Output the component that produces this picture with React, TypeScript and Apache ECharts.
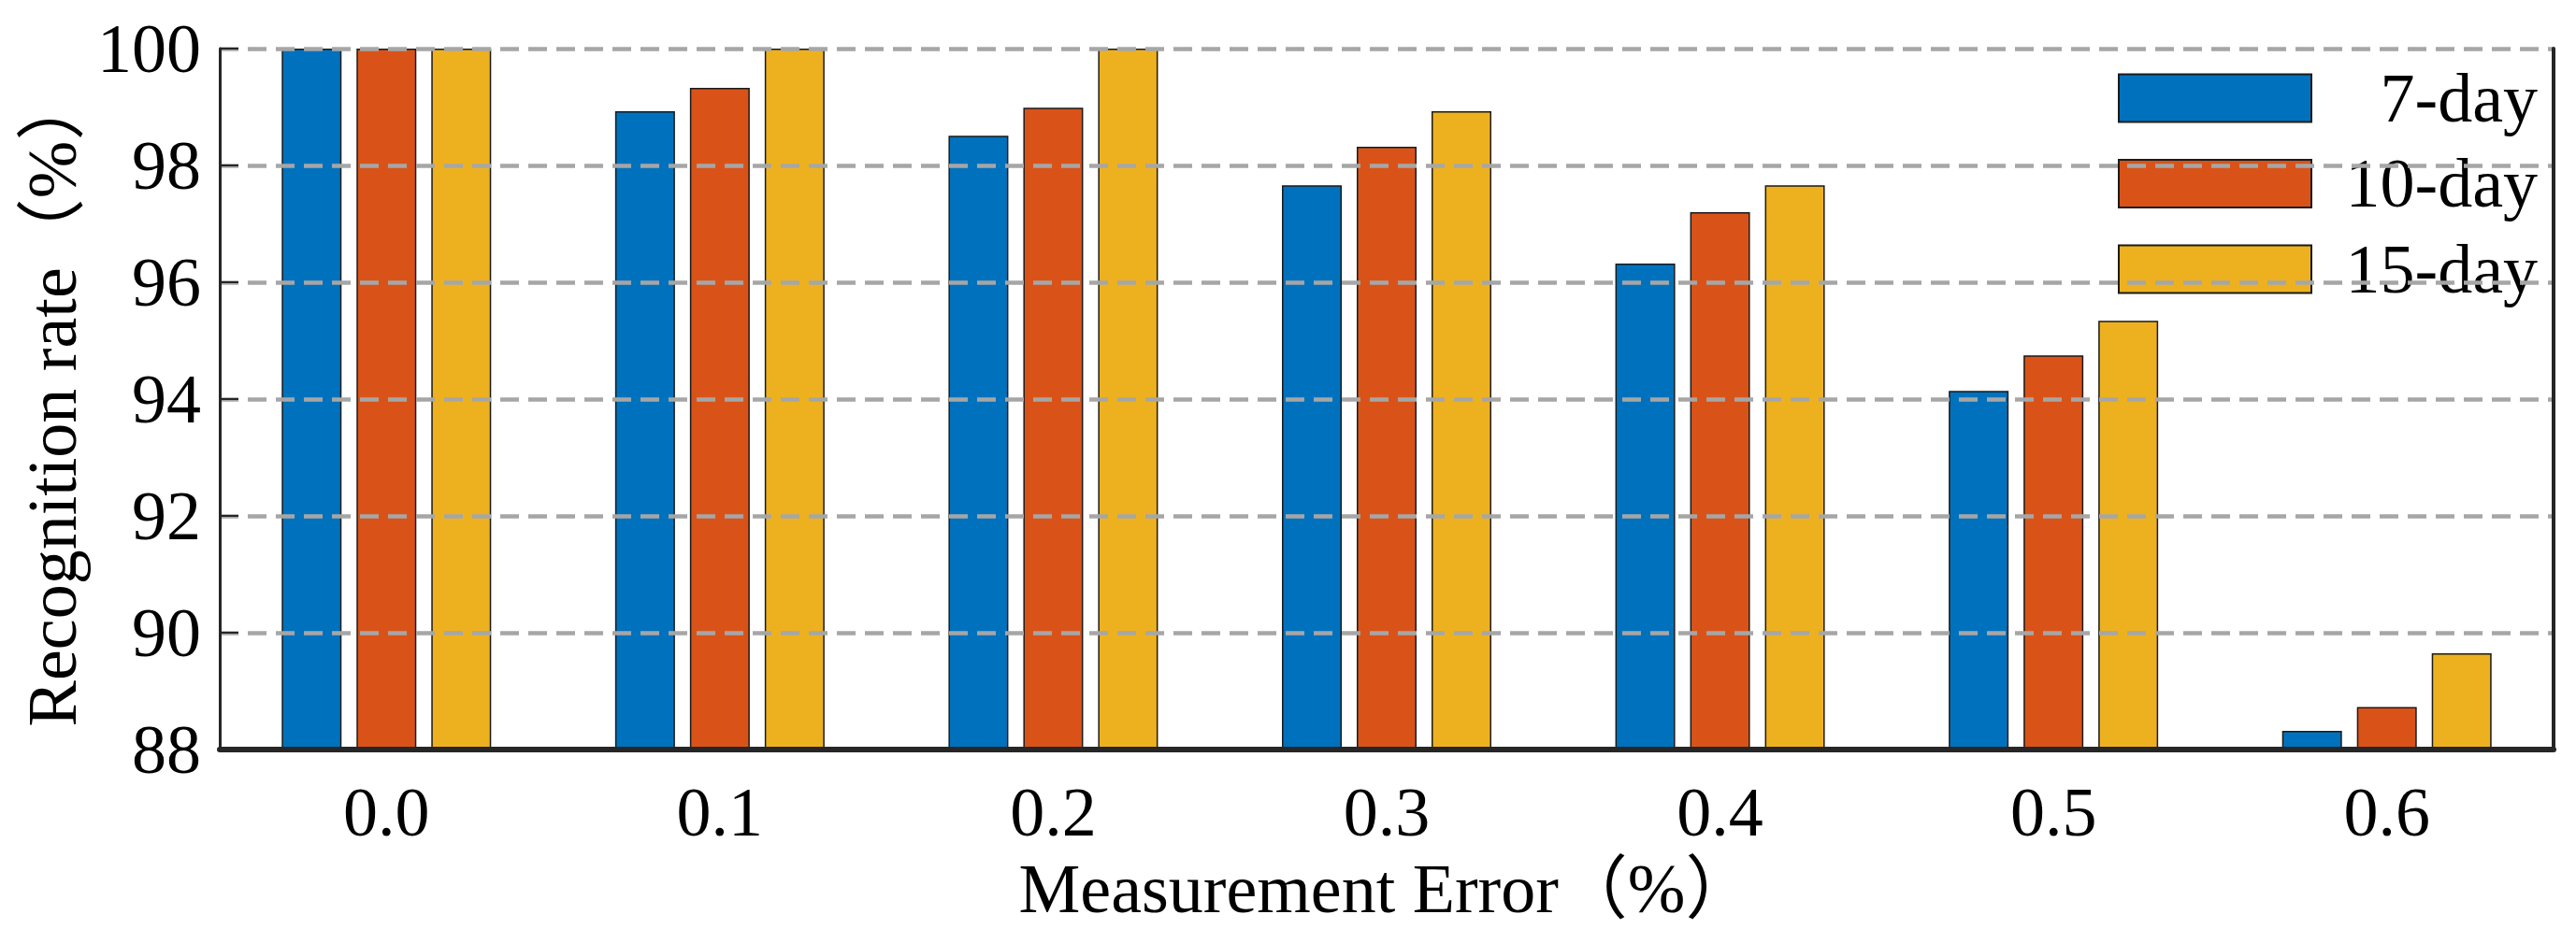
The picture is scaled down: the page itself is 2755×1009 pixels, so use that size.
import React, { useEffect, useRef } from "react";
import * as echarts from "echarts";

const categories = ["0.0", "0.1", "0.2", "0.3", "0.4", "0.5", "0.6"];
const seriesNames = ["7-day", "10-day", "15-day"];
const day7 = [100, 98.93, 98.51, 97.66, 96.32, 94.14, 88.32];
const day10 = [100, 99.33, 98.99, 98.32, 97.2, 94.75, 88.73];
const day15 = [100, 100, 100, 98.93, 97.66, 95.34, 89.65];
const colors = ["#0072BD", "#D95319", "#EDB120"];
const yMin = 88;
const yMax = 100;
const yInterval = 2;

const FONT = "'Liberation Serif', 'Times New Roman', 'Noto Sans CJK SC', serif";

export default function App() {
  const ref = useRef<HTMLDivElement>(null);
  useEffect(() => {
    if (!ref.current) return;
    const chart = echarts.init(ref.current, null, { renderer: "svg" });
    const values = [day7, day10, day15];
    const option: any = {
      animation: false,
      backgroundColor: "#ffffff",
      textStyle: { fontFamily: FONT },
      grid: { left: 235, right: 24, top: 52, bottom: 207, containLabel: false },
      legend: {
        orient: "vertical",
        left: 2260,
        top: 63,
        itemWidth: 206,
        itemHeight: 51,
        itemGap: 17.5,
        icon: "rect",
        formatter: "{n|{name}}",
        textStyle: {
          rich: {
            n: {
              width: 237,
              align: "right",
              fontSize: 74,
              lineHeight: 51,
              fontFamily: FONT,
              color: "#000",
            },
          },
        },
        data: seriesNames,
      },
      xAxis: {
        type: "category",
        data: categories,
        z: 6,
        axisLine: { show: true, lineStyle: { color: "#262626", width: 6 } },
        axisTick: { show: false },
        axisLabel: { fontSize: 74, color: "#000", margin: 30, fontFamily: FONT },
        name: "Measurement Error（%）",
        nameLocation: "middle",
        nameGap: 112,
        nameTextStyle: { fontSize: 74, color: "#000", fontFamily: FONT },
      },
      yAxis: [
        {
          type: "value",
          min: yMin,
          max: yMax,
          interval: yInterval,
          z: 5,
          axisLine: { show: true, lineStyle: { color: "#262626", width: 3 } },
          axisTick: { show: true, inside: true, length: 20, lineStyle: { color: "#262626", width: 2 } },
          axisLabel: { fontSize: 74, color: "#000", margin: 20, fontFamily: FONT },
          splitLine: {
            show: true,
            lineStyle: { color: "#a6a6a6", width: 4.5, type: [20, 10] },
          },
          name: "Recognition rate（%）",
          nameLocation: "middle",
          nameRotate: 90,
          nameGap: 126,
          nameTextStyle: { fontSize: 74, color: "#000", fontFamily: FONT },
        },
        {
          type: "value",
          position: "right",
          min: yMin,
          max: yMax,
          interval: yInterval,
          z: 6,
          axisLine: { show: true, lineStyle: { color: "#262626", width: 4 } },
          axisTick: { show: false },
          axisLabel: { show: false },
          splitLine: { show: false },
        },
      ],
      series: seriesNames.map((name, i) => ({
        name,
        type: "bar",
        data: values[i],
        barWidth: 64,
        barGap: "25%",
        itemStyle: { color: colors[i], borderColor: "#1a1a1a", borderWidth: 1.5 },
      })),
    };
    chart.setOption(option);
    return () => chart.dispose();
  }, []);
  return (
    <div
      ref={ref}
      style={{ position: "fixed", left: 0, top: 0, width: 2755, height: 1009, background: "#fff" }}
    />
  );
}
